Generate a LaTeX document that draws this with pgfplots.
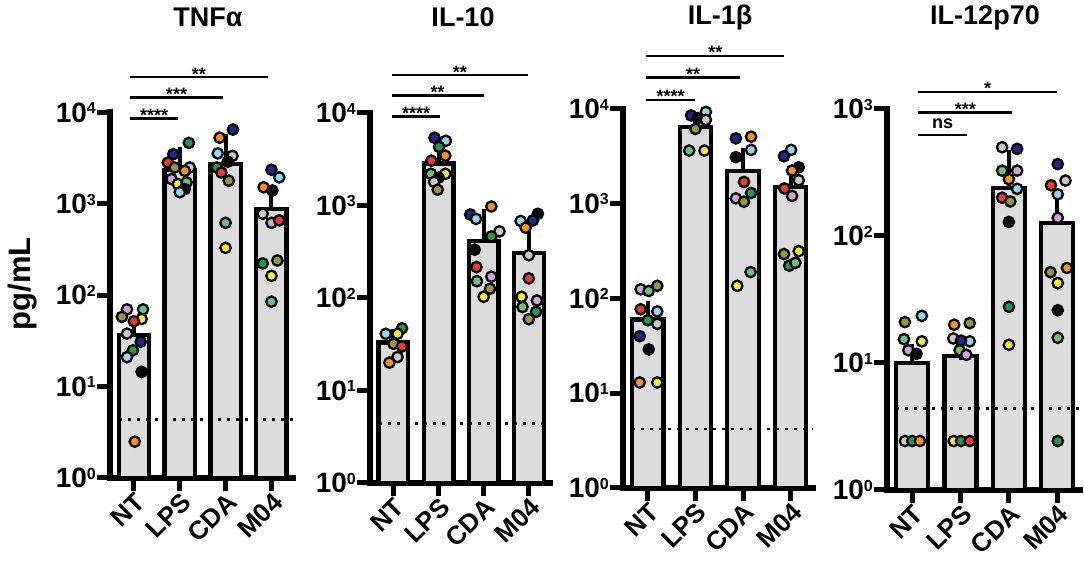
\documentclass[border=0pt]{standalone}
\usepackage{fontspec}
\setmainfont{Liberation Sans}
\usepackage{pgfplots}
\usepackage{pgfplotstable}
\pgfplotsset{compat=1.18}
\definecolor{cnv}{HTML}{1B2A8C}
\definecolor{clb}{HTML}{8ED8F2}
\definecolor{cor}{HTML}{F7941D}
\definecolor{crd}{HTML}{EE3A2C}
\definecolor{cmg}{HTML}{6CC17E}
\definecolor{cdg}{HTML}{1F9A4E}
\definecolor{cye}{HTML}{F9EC2E}
\definecolor{col}{HTML}{9B9440}
\definecolor{cpk}{HTML}{D7A0D8}
\definecolor{cgy}{HTML}{C9C9C9}
\definecolor{cbk}{HTML}{000000}
\definecolor{barfill}{HTML}{DCDCDC}
\newcommand{\tp}[1]{10\raisebox{8.5pt}{\fontsize{16}{16}\selectfont\bfseries #1}}
\newcommand{\tickfont}{\fontsize{28}{30}\selectfont\bfseries}
\newcommand{\xfont}{\fontsize{26}{28}\selectfont\bfseries}
\newcommand{\titlefont}{\fontsize{27}{29}\selectfont\bfseries}
\newcommand{\sigfont}{\fontsize{18}{20}\selectfont\bfseries}
\tikzset{mydot/.style={mark=*, draw=black, line width=2.3pt}}
\pgfplotsset{
 mybars/.style={ybar, bar width=0.66, bar shift=0pt, fill=barfill, draw=black, line width=4.3pt,
   /pgfplots/error bars/y dir=plus, /pgfplots/error bars/y explicit,
   /pgfplots/error bars/error bar style={line width=4pt, black},
   /pgfplots/error bars/error mark options={line width=4pt, black, mark size=10pt}},
 mylod/.style={black, line width=2.8pt, dash pattern=on 2.8pt off 6.2pt},
 mydots/.style={only marks, scatter, scatter src=explicit symbolic, mark size=5.2pt,
   scatter/classes={
    nv={mydot,fill=cnv}, lb={mydot,fill=clb}, or={mydot,fill=cor}, rd={mydot,fill=crd},
    mg={mydot,fill=cmg}, dg={mydot,fill=cdg}, ye={mydot,fill=cye}, ol={mydot,fill=col},
    pk={mydot,fill=cpk}, gy={mydot,fill=cgy}, bk={mydot,fill=cbk}}}
}
\newcommand{\sigb}[6]{%
 \draw[line width=2.5pt] (axis cs:#1,#4) -- (axis cs:#2,#4);
 \node[font=\sigfont, anchor=base, yshift=#5] at (axis cs:#3,#4) {#6};}

\pgfplotstableread{
x y c
-0.15 70 pk
0.20 70 mg
-0.26 58 ol
0.17 55 ye
0.00 52 rd
-0.15 38 gy
0.15 31 nv
-0.02 25 dg
-0.15 21 lb
0.17 14.5 bk
0.02 2.5 or
1.20 4650 dg
0.86 3500 nv
0.74 2830 rd
0.89 2500 ol
1.22 2500 gy
1.11 2300 or
0.82 1870 pk
0.96 1650 ye
1.15 1720 mg
1.11 1450 bk
1.00 1340 lb
2.16 6500 nv
1.87 5300 or
1.83 3570 lb
2.15 3350 gy
2.05 2900 bk
1.81 2500 dg
1.91 2200 rd
2.07 1790 ol
2.00 620 mg
2.00 330 ye
3.00 2360 nv
3.17 1950 lb
2.83 1520 or
3.02 1400 bk
2.81 780 gy
3.00 620 pk
3.17 660 rd
2.81 223 dg
3.13 240 ol
3.00 163 ye
3.00 85 mg
}\tnf

\pgfplotstableread{
x y c
0.19 47 dg
-0.17 41 lb
0.09 41 ye
0.00 32 ol
0.19 30 rd
0.09 23 gy
-0.09 20 or
0.91 5400 nv
1.16 5000 lb
1.01 4300 dg
1.15 3460 or
0.84 3050 rd
0.83 2200 mg
1.15 2200 ye
1.00 2000 bk
0.90 1800 gy
0.98 1480 ol
2.17 975 or
1.70 800 nv
1.83 717 lb
2.35 525 gy
2.17 463 dg
1.80 333 bk
1.84 216 rd
2.17 170 pk
1.85 152 mg
2.14 126 ol
2.00 103 ye
3.20 813 bk
3.09 690 nv
2.82 680 lb
2.93 575 or
3.00 290 gy
3.00 163 rd
2.84 103 ye
3.18 94 pk
2.86 80 mg
3.16 71 dg
3.00 59 ol
}\ilten

\pgfplotstableread{
x y c
-0.15 125 pk
0.02 120 mg
0.20 136 ol
-0.15 77 rd
0.20 73 lb
0.00 59 dg
0.20 54 gy
-0.17 40 nv
0.02 29 bk
-0.17 13 or
0.20 13 ye
1.22 9300 lb
0.91 8540 nv
1.05 8000 bk
1.22 7670 gy
1.00 6150 ol
0.87 3640 mg
1.19 3640 ye
1.85 4900 nv
2.17 5100 or
2.17 3700 lb
1.85 3100 bk
2.02 1700 rd
2.17 1300 dg
1.85 1140 pk
2.02 1050 ol
1.88 136 ye
2.16 190 mg
3.01 3700 lb
2.86 3170 nv
3.17 2420 bk
3.03 2240 or
3.17 1770 gy
2.87 1450 rd
3.03 1210 pk
2.86 294 ol
3.17 316 ye
2.97 222 dg
3.10 238 mg
}\ilone

\pgfplotstableread{
x y c
-0.15 21 ol
0.20 23.5 lb
-0.17 15.4 mg
0.20 14.8 ye
-0.08 12.6 pk
0.09 11.8 bk
-0.15 2.43 gy
0.00 2.43 dg
0.16 2.43 or
0.87 20 or
1.19 20.6 ol
0.85 15.6 gy
1.19 14.8 lb
1.01 15 nv
0.98 12.6 mg
1.12 11.6 pk
0.86 2.43 ye
1.01 2.43 dg
1.19 2.43 rd
1.86 500 gy
2.17 485 nv
1.86 327 mg
2.17 327 pk
2.00 280 or
2.17 235 lb
1.86 200 rd
2.03 187 ol
2.00 129 bk
2.00 27.7 dg
2.00 13.9 ye
3.01 368 nv
2.87 251 rd
3.17 273 gy
3.01 213 lb
3.01 139 pk
2.86 51.9 ol
3.20 56 or
3.01 42.6 ye
3.01 26 bk
3.01 15.8 mg
3.01 2.43 dg
}\iltwelve

\begin{document}
\begin{tikzpicture}
\useasboundingbox (0,0) rectangle (1084pt,569pt);
\node[font=\titlefont] at (208pt,552pt) {TNFα};
\node[font=\titlefont] at (463pt,552pt) {IL-10};
\node[font=\titlefont] at (720pt,551pt) {IL-1β};
\node[font=\titlefont] at (985pt,551pt) {IL-12p70};
\node[rotate=90, font=\fontsize{31}{33}\selectfont\bfseries] at (23pt,285pt) {pg/mL};

\begin{axis}[scale only axis, ymode=log, ymin=1, xmin=-0.52, xmax=3.47,
  axis x line*=bottom, axis y line*=left,
  axis line style={line width=6pt, black, line cap=rect},
  xtick={0,1,2,3}, xticklabels={NT,LPS,CDA,M04},
  tick align=outside, major tick length=13pt, tick style={line width=5pt, black},
  yminorticks=false, xminorticks=false, clip=false,
  xticklabel style={font=\xfont, rotate=45, anchor=north east, inner sep=0pt},
  yticklabel style={font=\tickfont, anchor=east, inner sep=1pt},
  at={(110pt,91pt)}, anchor=south west, width=183pt, height=365.5pt,
  ymax=10000, ytick={1,10,100,1000,10000}, yticklabels={\tp{0},\tp{1},\tp{2},\tp{3},\tp{4}}]
\addplot[mybars] coordinates {(0,37) +- (0,8) (1,2360) +- (0,880) (2,2720) +- (0,1810) (3,880) +- (0,300)};
\addplot[mylod] coordinates {(-0.52,4.4) (3.47,4.4)};
\addplot[mydots] table[x=x,y=y,meta=c] {\tnf};
\sigb{-0.08}{0.96}{0.44}{8570}{-3pt}{****}
\sigb{-0.08}{1.94}{0.93}{14520}{-3pt}{***}
\sigb{-0.08}{2.92}{1.42}{24380}{-3pt}{**}
\end{axis}

\begin{axis}[scale only axis, ymode=log, ymin=1, xmin=-0.52, xmax=3.47,
  axis x line*=bottom, axis y line*=left,
  axis line style={line width=6pt, black, line cap=rect},
  xtick={0,1,2,3}, xticklabels={NT,LPS,CDA,M04},
  tick align=outside, major tick length=13pt, tick style={line width=5pt, black},
  yminorticks=false, xminorticks=false, clip=false,
  xticklabel style={font=\xfont, rotate=45, anchor=north east, inner sep=0pt},
  yticklabel style={font=\tickfont, anchor=east, inner sep=1pt},
  at={(370pt,86pt)}, anchor=south west, width=180pt, height=370pt,
  ymax=10000, ytick={1,10,100,1000,10000}, yticklabels={\tp{0},\tp{1},\tp{2},\tp{3},\tp{4}}]
\addplot[mybars] coordinates {(0,33) +- (0,3) (1,2850) +- (0,830) (2,412) +- (0,305) (3,306) +- (0,106)};
\addplot[mylod] coordinates {(-0.52,4.4) (3.47,4.4)};
\addplot[mydots] table[x=x,y=y,meta=c] {\ilten};
\sigb{-0.03}{1.03}{0.50}{9120}{-3pt}{****}
\sigb{-0.03}{2.00}{0.98}{15490}{-3pt}{**}
\sigb{-0.03}{2.98}{1.47}{25700}{-3pt}{**}
\end{axis}

\begin{axis}[scale only axis, ymode=log, ymin=1, xmin=-0.52, xmax=3.47,
  axis x line*=bottom, axis y line*=left,
  axis line style={line width=6pt, black, line cap=rect},
  xtick={0,1,2,3}, xticklabels={NT,LPS,CDA,M04},
  tick align=outside, major tick length=13pt, tick style={line width=5pt, black},
  yminorticks=false, xminorticks=false, clip=false,
  xticklabel style={font=\xfont, rotate=45, anchor=north east, inner sep=0pt},
  yticklabel style={font=\tickfont, anchor=east, inner sep=1pt},
  at={(623pt,81pt)}, anchor=south west, width=190pt, height=379pt,
  ymax=10000, ytick={1,10,100,1000,10000}, yticklabels={\tp{0},\tp{1},\tp{2},\tp{3},\tp{4}}]
\addplot[mybars] coordinates {(0,60) +- (0,13) (1,6420) +- (0,910) (2,2220) +- (0,810) (3,1490) +- (0,460)};
\addplot[mylod] coordinates {(-0.52,4.2) (3.47,4.2)};
\addplot[mydots] table[x=x,y=y,meta=c] {\ilone};
\sigb{-0.03}{0.99}{0.48}{12450}{-3pt}{****}
\sigb{-0.03}{1.93}{0.95}{21380}{-3pt}{**}
\sigb{-0.03}{2.86}{1.42}{36300}{-3pt}{**}
\end{axis}

\begin{axis}[scale only axis, ymode=log, ymin=1, xmin=-0.52, xmax=3.47,
  axis x line*=bottom, axis y line*=left,
  axis line style={line width=6pt, black, line cap=rect},
  xtick={0,1,2,3}, xticklabels={NT,LPS,CDA,M04},
  tick align=outside, major tick length=13pt, tick style={line width=5pt, black},
  yminorticks=false, xminorticks=false, clip=false,
  xticklabel style={font=\xfont, rotate=45, anchor=north east, inner sep=0pt},
  yticklabel style={font=\tickfont, anchor=east, inner sep=1pt},
  at={(887pt,79pt)}, anchor=south west, width=193pt, height=381pt,
  ymax=1000, ytick={1,10,100,1000}, yticklabels={\tp{0},\tp{1},\tp{2},\tp{3}}]
\addplot[mybars] coordinates {(0,10) +- (0,1.8) (1,11.3) +- (0,1.3) (2,240) +- (0,160) (3,126) +- (0,43)};
\addplot[mylod] coordinates {(-0.52,4.4) (3.47,4.4)};
\addplot[mydots] table[x=x,y=y,meta=c] {\iltwelve};
\sigb{0.13}{1.13}{0.63}{622}{7pt}{ns}
\sigb{0.13}{2.07}{1.10}{935}{-3pt}{***}
\sigb{0.13}{2.99}{1.56}{1361}{-3pt}{*}
\end{axis}
\end{tikzpicture}
\end{document}
